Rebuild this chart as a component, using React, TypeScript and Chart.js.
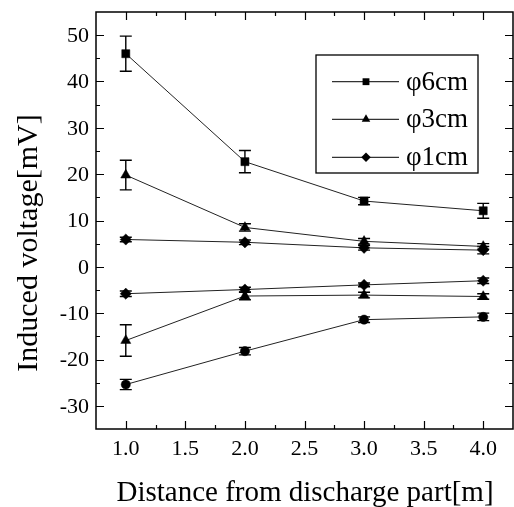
import React, { useEffect, useRef } from "react";
import { Chart, registerables } from "chart.js";

Chart.register(...registerables);

const distances = [1.0, 2.0, 3.0, 4.0];
const xTickValues = [1.0, 1.5, 2.0, 2.5, 3.0, 3.5, 4.0];
const yTickValues = [-30, -20, -10, 0, 10, 20, 30, 40, 50];

const phi6 = [46.0, 22.7, 14.2, 12.1];
const phi6Err = [3.8, 2.4, 0.8, 1.6];
const phi3Pos = [19.8, 8.5, 5.5, 4.4];
const phi3PosErr = [3.2, 0.8, 0.6, 0.6];
const phi1Pos = [5.9, 5.3, 4.1, 3.6];
const phi1PosErr = [0.5, 0.5, 0.5, 0.8];
const phi1Neg = [-5.8, -4.9, -3.9, -3.0];
const phi1NegErr = [0.6, 0.5, 0.4, 0.6];
const phi3Neg = [-15.9, -6.3, -6.1, -6.4];
const phi3NegErr = [3.4, 0.8, 0.6, 0.6];
const circleNeg = [-25.4, -18.2, -11.4, -10.8];
const circleNegErr = [1.1, 0.8, 0.6, 0.8];

const legendLabels = ["\u03c66cm", "\u03c63cm", "\u03c61cm"];

const SERIF = "'Liberation Serif', 'Times New Roman', serif";

type Series = { label: string; values: number[]; errors: number[]; style: string; radius: number; legend: boolean };

const series: Series[] = [
  { label: legendLabels[0], values: phi6, errors: phi6Err, style: "rect", radius: 5.7, legend: true },
  { label: legendLabels[1], values: phi3Pos, errors: phi3PosErr, style: "triangle", radius: 5.8, legend: true },
  { label: legendLabels[2], values: phi1Pos, errors: phi1PosErr, style: "rectRot", radius: 5.6, legend: true },
  { label: "neg1", values: phi1Neg, errors: phi1NegErr, style: "rectRot", radius: 5.6, legend: false },
  { label: "neg3", values: phi3Neg, errors: phi3NegErr, style: "triangle", radius: 5.8, legend: false },
  { label: "neg6", values: circleNeg, errors: circleNegErr, style: "circle", radius: 4.6, legend: false },
];

function drawMarker(ctx: CanvasRenderingContext2D, style: string, x: number, y: number, r: number) {
  ctx.beginPath();
  if (style === "rect") {
    const s = Math.SQRT1_2 * r;
    ctx.rect(x - s, y - s, 2 * s, 2 * s);
  } else if (style === "triangle") {
    ctx.moveTo(x, y - r);
    ctx.lineTo(x + r * 0.866, y + r * 0.5);
    ctx.lineTo(x - r * 0.866, y + r * 0.5);
    ctx.closePath();
  } else if (style === "rectRot") {
    ctx.moveTo(x - r, y);
    ctx.lineTo(x, y - r);
    ctx.lineTo(x + r, y);
    ctx.lineTo(x, y + r);
    ctx.closePath();
  } else {
    ctx.arc(x, y, r, 0, Math.PI * 2);
  }
  ctx.fill();
}

const framePlugin = {
  id: "framePlugin",
  beforeDatasetsDraw(chart: any) {
    const ctx = chart.ctx as CanvasRenderingContext2D;
    const xs = chart.scales.x;
    const ys = chart.scales.y;
    ctx.save();
    ctx.strokeStyle = "#000";
    ctx.lineWidth = 1.4;
    series.forEach((s) => {
      s.values.forEach((v, i) => {
        const e = s.errors[i];
        const px = xs.getPixelForValue(distances[i]);
        const yt = ys.getPixelForValue(v + e);
        const yb = ys.getPixelForValue(v - e);
        ctx.beginPath();
        ctx.moveTo(px, yt);
        ctx.lineTo(px, yb);
        ctx.moveTo(px - 6, yt);
        ctx.lineTo(px + 6, yt);
        ctx.moveTo(px - 6, yb);
        ctx.lineTo(px + 6, yb);
        ctx.stroke();
      });
    });
    ctx.restore();
  },
  afterDraw(chart: any) {
    const ctx = chart.ctx as CanvasRenderingContext2D;
    const { left, right, top, bottom } = chart.chartArea;
    const xs = chart.scales.x;
    const ys = chart.scales.y;
    ctx.save();
    ctx.strokeStyle = "#000";
    ctx.lineWidth = 1.5;
    ctx.strokeRect(left, top, right - left, bottom - top);

    ctx.lineWidth = 1.2;
    ctx.beginPath();
    for (let v = 0.75; v <= 4.2501; v += 0.25) {
      const px = Math.round(xs.getPixelForValue(v)) + 0.5;
      const major = Math.abs(v * 2 - Math.round(v * 2)) < 1e-6;
      const len = major ? 8 : 4;
      if (px <= left + 1 || px >= right - 1) continue;
      ctx.moveTo(px, bottom);
      ctx.lineTo(px, bottom - len);
      ctx.moveTo(px, top);
      ctx.lineTo(px, top + len);
    }
    for (let v = -35; v <= 55; v += 5) {
      const py = Math.round(ys.getPixelForValue(v)) + 0.5;
      const major = v % 10 === 0;
      const len = major ? 8 : 4;
      if (py <= top + 1 || py >= bottom - 1) continue;
      ctx.moveTo(left, py);
      ctx.lineTo(left + len, py);
      ctx.moveTo(right, py);
      ctx.lineTo(right - len, py);
    }
    ctx.stroke();

    // tick labels
    ctx.fillStyle = "#000";
    ctx.font = `22px ${SERIF}`;
    ctx.textBaseline = "middle";
    ctx.textAlign = "center";
    xTickValues.forEach((v) => {
      ctx.fillText(v.toFixed(1), xs.getPixelForValue(v), bottom + 20);
    });
    ctx.textAlign = "right";
    yTickValues.forEach((v) => {
      ctx.fillText(String(v), left - 7, ys.getPixelForValue(v) + 1);
    });

    // legend
    const lx0 = 316, ly0 = 55, lx1 = 478, ly1 = 173;
    ctx.fillStyle = "#fff";
    ctx.fillRect(lx0, ly0, lx1 - lx0, ly1 - ly0);
    ctx.lineWidth = 1.3;
    ctx.strokeStyle = "#000";
    ctx.strokeRect(lx0, ly0, lx1 - lx0, ly1 - ly0);
    const rows = [81.7, 119.3, 157.3];
    series.filter((s) => s.legend).forEach((s, i) => {
      const y = rows[i];
      ctx.strokeStyle = "#333";
      ctx.lineWidth = 1.2;
      ctx.beginPath();
      ctx.moveTo(332, y);
      ctx.lineTo(399, y);
      ctx.stroke();
      ctx.fillStyle = "#000";
      drawMarker(ctx, s.style, 366, y, s.radius * 0.85);
      ctx.font = `27px ${SERIF}`;
      ctx.textAlign = "left";
      ctx.textBaseline = "middle";
      ctx.fillText(s.label, 406, y + 1);
    });

    // axis titles
    ctx.fillStyle = "#000";
    ctx.font = `29px ${SERIF}`;
    ctx.textAlign = "center";
    ctx.textBaseline = "middle";
    ctx.fillText("Distance from discharge part[m]", 305, 493);
    ctx.save();
    ctx.translate(29, 243);
    ctx.rotate(-Math.PI / 2);
    ctx.font = `30px ${SERIF}`;
    ctx.fillText("Induced voltage[mV]", 0, 0);
    ctx.restore();
    ctx.restore();
  },
};

export default function App() {
  const canvasRef = useRef<HTMLCanvasElement | null>(null);

  useEffect(() => {
    const canvas = canvasRef.current;
    if (!canvas) return;
    const chart = new Chart(canvas, {
      type: "line",
      data: {
        datasets: series.map((s) => ({
          label: s.label,
          data: s.values.map((v, i) => ({ x: distances[i], y: v })),
          borderColor: "#222",
          borderWidth: 1,
          backgroundColor: "#000",
          pointStyle: s.style as any,
          pointRadius: s.radius,
          pointBorderWidth: 0.5,
          pointBorderColor: "#000",
          pointBackgroundColor: "#000",
          fill: false,
          tension: 0,
        })),
      },
      options: {
        animation: false,
        responsive: false,
        devicePixelRatio: 1,
        layout: { autoPadding: false, padding: { top: 12, right: 1, left: 0, bottom: 0 } },
        plugins: {
          legend: { display: false },
          tooltip: { enabled: false },
          title: { display: false },
        },
        scales: {
          x: {
            type: "linear",
            min: 0.75,
            max: 4.25,
            afterFit: (s: any) => {
              s.height = 78;
            },
            afterBuildTicks: (axis: any) => {
              axis.ticks = xTickValues.map((v) => ({ value: v }));
            },
            grid: { display: false, drawTicks: false },
            border: { display: false },
            ticks: { display: false },
          },
          y: {
            type: "linear",
            min: -35,
            max: 55,
            afterFit: (s: any) => {
              s.width = 96;
            },
            afterBuildTicks: (axis: any) => {
              axis.ticks = yTickValues.map((v) => ({ value: v }));
            },
            grid: { display: false, drawTicks: false },
            border: { display: false },
            ticks: { display: false },
          },
        },
      },
      plugins: [framePlugin],
    });
    return () => chart.destroy();
  }, []);

  return (
    <div style={{ position: "fixed", left: 0, top: 0, width: 514, height: 507, background: "#fff" }}>
      <canvas ref={canvasRef} width={514} height={507} style={{ width: 514, height: 507, display: "block" }} />
    </div>
  );
}
